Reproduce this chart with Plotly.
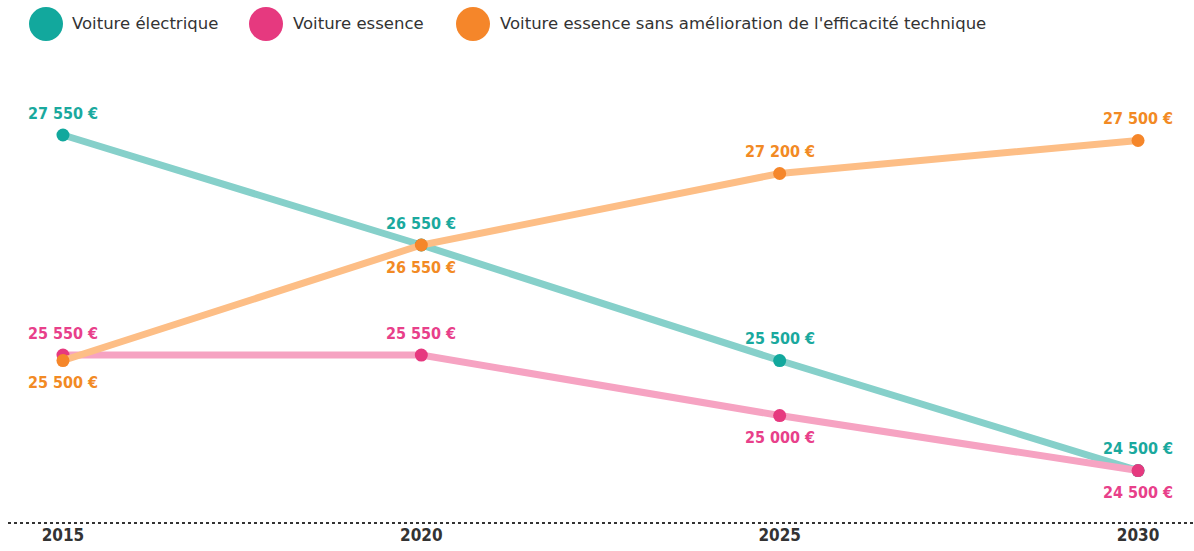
import plotly.graph_objects as go

years = [2015, 2020, 2025, 2030]
year_labels = ["2015", "2020", "2025", "2030"]
series_names = ["Voiture électrique", "Voiture essence",
                "Voiture essence sans amélioration de l'efficacité technique"]
electrique = [27550, 26550, 25500, 24500]
essence = [25550, 25550, 25000, 24500]
essence_sans = [25500, 26550, 27200, 27500]
# label side: +1 above, -1 below
elec_side = [1, 1, 1, 1]
ess_side = [1, 1, -1, -1]
sans_side = [-1, -1, 1, 1]

line_colors = ["#86d0ca", "#f6a3c2", "#fdbe86"]
marker_colors = ["#12a89d", "#e6397f", "#f5862a"]
text_colors = ["#1aa99e", "#e8408a", "#f28a24"]

FONT = "DejaVu Sans Condensed, Liberation Sans Narrow, Roboto, sans-serif"
LEG_FONT = "DejaVu Sans, Roboto, sans-serif"

def fmt(v):
    return f"{v:,}".replace(",", " ") + " €"

fig = go.Figure()
all_series = [electrique, essence, essence_sans]
all_sides = [elec_side, ess_side, sans_side]
order = [0, 1, 2]
for i in order:
    fig.add_trace(go.Scatter(
        x=years, y=all_series[i], mode="lines+markers", name=series_names[i],
        line=dict(color=line_colors[i], width=7),
        marker=dict(color=marker_colors[i], size=13),
        showlegend=False, hoverinfo="skip"))

annotations = []
for i in order:
    for x, v, s in zip(years, all_series[i], all_sides[i]):
        annotations.append(dict(
            x=x, y=v, xref="x", yref="y", text=fmt(v), showarrow=False,
            yshift=22 * s,
            font=dict(family=FONT, size=16, color=text_colors[i], weight="bold"),
            xanchor="center", yanchor="middle"))

W, H = 1194, 551
ml, mr, mt, mb = 8, 0, 60, 28
pw, ph = W - ml - mr, H - mt - mb

def px_to_paper(px, py):
    return (px - ml) / pw, (H - mb - py) / ph

leg_cx = [46, 266, 473]
leg_tx = [70, 291, 498]
shapes = []
for cx, tx, name, col in zip(leg_cx, leg_tx, series_names, marker_colors):
    x0, y0 = px_to_paper(cx - 17, 24 + 17)
    x1, y1 = px_to_paper(cx + 17, 24 - 17)
    shapes.append(dict(type="circle", xref="paper", yref="paper",
                       x0=x0, x1=x1, y0=y0, y1=y1,
                       fillcolor=col, line=dict(width=0)))
    ax, ay = px_to_paper(tx, 24)
    annotations.append(dict(x=ax, y=ay, xref="paper", yref="paper", text=name,
                            showarrow=False, xanchor="left", yanchor="middle",
                            font=dict(family=LEG_FONT, size=16.5, color="#333333")))

# dotted baseline
shapes.append(dict(type="line", xref="paper", yref="paper", x0=0, x1=1, y0=0, y1=0,
                   line=dict(color="#333333", width=2, dash="dot")))

fig.update_layout(
    width=W, height=H,
    margin=dict(l=ml, r=mr, t=mt, b=mb),
    paper_bgcolor="white", plot_bgcolor="white",
    xaxis=dict(range=[2014.233, 2030.781], tickvals=years, ticktext=year_labels,
               showgrid=False, zeroline=False, showline=False, ticks="",
               tickfont=dict(family=FONT, size=17, color="#333333", weight="bold"),
               fixedrange=True),
    yaxis=dict(range=[24023, 28232], showgrid=False, zeroline=False,
               showticklabels=False, showline=False, fixedrange=True),
    shapes=shapes, annotations=annotations,
)
fig.write_html("out.html", config={"displayModeBar": False},
               post_script="document.body.style.margin='0';document.body.style.overflow='hidden';")
